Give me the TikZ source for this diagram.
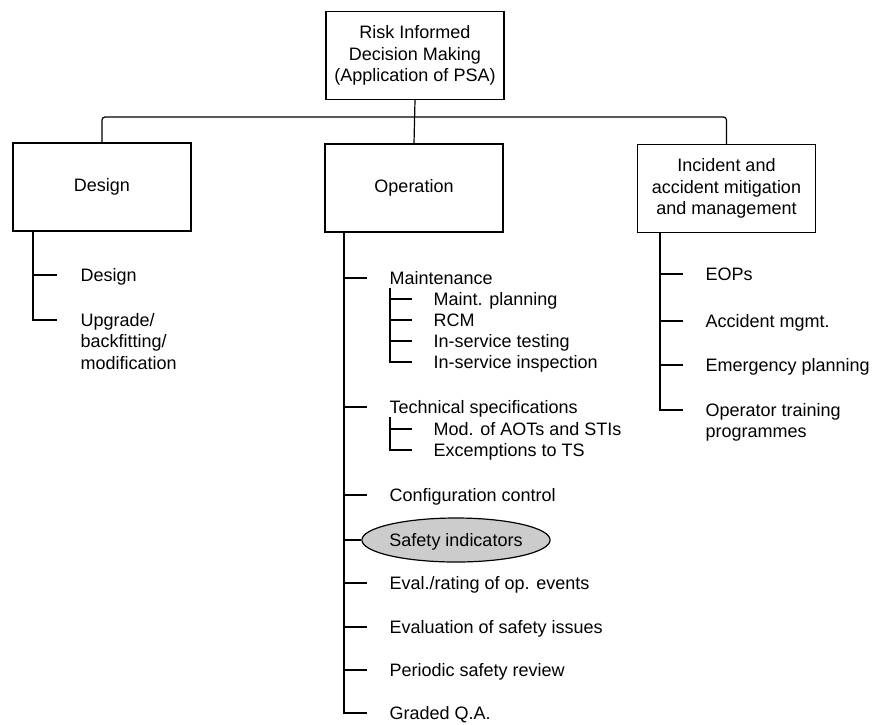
\documentclass[tikz,border=0pt]{standalone}
\usepackage{fontspec}
\setmainfont{Liberation Sans}
\usetikzlibrary{shapes.geometric}
\begin{document}
\begin{tikzpicture}[x=1pt,y=-1pt, line width=1.2pt,
  txt/.style={font=\fontsize{18}{21.5}\selectfont},
  box/.style={txt, draw, rectangle, minimum width=178pt, minimum height=88pt, align=center, inner sep=2pt},
  item/.style={txt, anchor=base west, inner sep=0pt},
  hl/.style={txt, draw, ellipse, fill=gray!40, minimum width=178pt, minimum height=44pt, inner sep=0pt, text height=12.8pt, text depth=0pt}]
\useasboundingbox (0,0) rectangle (877,724);

% boxes
\node[box] (top) at (415,55.5) {Risk Informed\\Decision Making\\(Application of PSA)};
\node[box] (des) at (102,187) {Design};
\node[box] (op) at (414,188) {Operation};
\node[box] (inc) at (726.5,188.5) {Incident and\\accident mitigation\\and management};

% bus
\coordinate (bus) at (0,117);
\draw (top.south) -- (op.north);
\draw[rounded corners=3pt] (des.north) -- (des.north |- bus) -- (inc.north |- bus) -- (inc.north);

% ---------------- Design list
\coordinate (ds0) at (33,231);
\coordinate (dt1) at (57,275);
\coordinate (dt2) at (57,320);
\node[item] (d1) at (80,281) {Design};
\node[item] (d2) at (80,326) {\begin{tabular}[t]{@{}l@{}}Upgrade/\\backfitting/\\modification\end{tabular}};
\draw (ds0) |- (dt2);
\draw (ds0 |- dt1) -- (dt1);

% ---------------- Operation list
\coordinate (os0) at (344,232);
\coordinate (ot1) at (367,278);
\coordinate (ot2) at (367,407);
\coordinate (ot3) at (367,495);
\coordinate (ot5) at (367,583);
\coordinate (ot6) at (367,627);
\coordinate (ot7) at (367,670);
\coordinate (ot8) at (367,713);
\node[item] (o1) at (389,284) {Maintenance};
\node[item] (o2) at (389,413) {Technical specifications};
\node[item] (o3) at (389,501) {Configuration control};
\node[hl] (o4) at (456,540) {Safety indicators};
\node[item] (o5) at (389,589) {Eval./rating of op. events};
\node[item] (o6) at (389,633) {Evaluation of safety issues};
\node[item] (o7) at (389,676) {Periodic safety review};
\node[item] (o8) at (389,719) {Graded Q.A.};
\draw (os0) |- (ot8);
\foreach \t in {ot1,ot2,ot3,ot5,ot6,ot7} \draw (os0 |- \t) -- (\t);
\draw (os0 |- o4.west) -- (o4.west);

% maintenance sub-list
\coordinate (ms0) at (390,288);
\coordinate (mt1) at (412,299);
\coordinate (mt2) at (412,320);
\coordinate (mt3) at (412,341);
\coordinate (mt4) at (412,362);
\node[item] (m1) at (433,305) {Maint. planning};
\node[item] (m2) at (433,326) {RCM};
\node[item] (m3) at (433,347) {In-service testing};
\node[item] (m4) at (433,368) {In-service inspection};
\draw (ms0) |- (mt4);
\foreach \t in {mt1,mt2,mt3} \draw (ms0 |- \t) -- (\t);

% technical specifications sub-list
\coordinate (ts0) at (390,417);
\coordinate (tt1) at (412,429);
\coordinate (tt2) at (412,450);
\node[item] (t1) at (433,435) {Mod. of AOTs and STIs};
\node[item] (t2) at (433,456) {Excemptions to TS};
\draw (ts0) |- (tt2);
\draw (ts0 |- tt1) -- (tt1);

% ---------------- Incident list
\coordinate (is0) at (660,233);
\coordinate (it1) at (683,274);
\coordinate (it2) at (683,321);
\coordinate (it3) at (683,365);
\coordinate (it4) at (683,410);
\node[item] (i1) at (705,280) {EOPs};
\node[item] (i2) at (705,327) {Accident mgmt.};
\node[item] (i3) at (705,371) {Emergency planning};
\node[item] (i4) at (705,416) {\begin{tabular}[t]{@{}l@{}}Operator training\\programmes\end{tabular}};
\draw (is0) |- (it4);
\foreach \t in {it1,it2,it3} \draw (is0 |- \t) -- (\t);
\end{tikzpicture}
\end{document}
